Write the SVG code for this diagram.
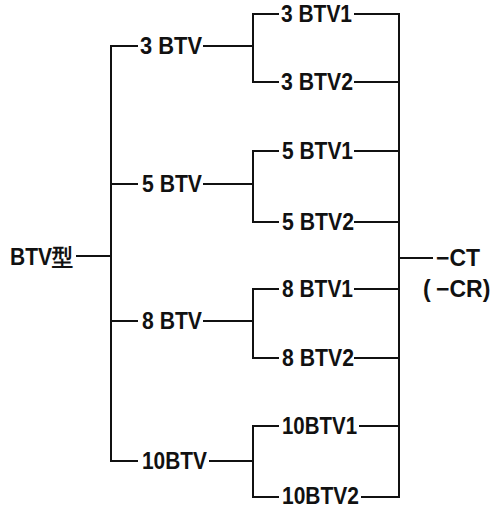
<svg xmlns="http://www.w3.org/2000/svg" width="492" height="509" viewBox="0 0 492 509">
<style>
.t{font-family:"Liberation Sans",Arial,sans-serif;font-size:23px;font-weight:bold;fill:#111}
.c{stroke:#111;stroke-width:2;fill:none;stroke-linecap:square}
</style>
<rect width="492" height="509" fill="#fff"/>
<g id="connectors" class="c">
<path d="M77 256H111M111 46V461"/>
<path d="M111 46H137M204 46H253"/>
<path d="M111 184H137M204 184H253"/>
<path d="M111 321H137M204 321H253"/>
<path d="M111 461H137M210 461H253"/>
<path d="M253 14V82M253 151V222M253 289V358M253 426V497"/>
<path d="M253 14H278M253 82H278M253 151H278M253 222H278M253 289H278M253 358H278M253 426H278M253 497H278"/>
<path d="M355 14H399M355 82H399M355 151H399M355 222H399M355 289H399M355 358H399M360 426H399M362 497H399"/>
<path d="M399 14V497M399 258H432"/>
</g>
<g id="root"><text class="t" x="10" y="265" textLength="63" lengthAdjust="spacingAndGlyphs">BTV型</text></g>
<g id="n3BTV"><text class="t" x="140" y="54" textLength="62" lengthAdjust="spacingAndGlyphs">3 BTV</text></g>
<g id="n5BTV"><text class="t" x="142" y="192" textLength="60" lengthAdjust="spacingAndGlyphs">5 BTV</text></g>
<g id="n8BTV"><text class="t" x="142" y="329" textLength="60" lengthAdjust="spacingAndGlyphs">8 BTV</text></g>
<g id="n10BTV"><text class="t" x="142" y="469" textLength="65" lengthAdjust="spacingAndGlyphs">10BTV</text></g>
<g id="n3BTV1"><text class="t" x="281" y="22" textLength="71" lengthAdjust="spacingAndGlyphs">3 BTV1</text></g>
<g id="n3BTV2"><text class="t" x="281" y="90" textLength="72" lengthAdjust="spacingAndGlyphs">3 BTV2</text></g>
<g id="n5BTV1"><text class="t" x="282" y="159" textLength="71" lengthAdjust="spacingAndGlyphs">5 BTV1</text></g>
<g id="n5BTV2"><text class="t" x="282" y="230" textLength="72" lengthAdjust="spacingAndGlyphs">5 BTV2</text></g>
<g id="n8BTV1"><text class="t" x="282" y="297" textLength="71" lengthAdjust="spacingAndGlyphs">8 BTV1</text></g>
<g id="n8BTV2"><text class="t" x="282" y="366" textLength="72" lengthAdjust="spacingAndGlyphs">8 BTV2</text></g>
<g id="n10BTV1"><text class="t" x="282" y="434" textLength="75" lengthAdjust="spacingAndGlyphs">10BTV1</text></g>
<g id="n10BTV2"><text class="t" x="282" y="504" textLength="77" lengthAdjust="spacingAndGlyphs">10BTV2</text></g>
<g id="ct"><text class="t" x="436" y="266" textLength="44" lengthAdjust="spacingAndGlyphs">−CT</text><text class="t" x="423" y="297">(<tspan x="436">−CR)</tspan></text></g>
</svg>
